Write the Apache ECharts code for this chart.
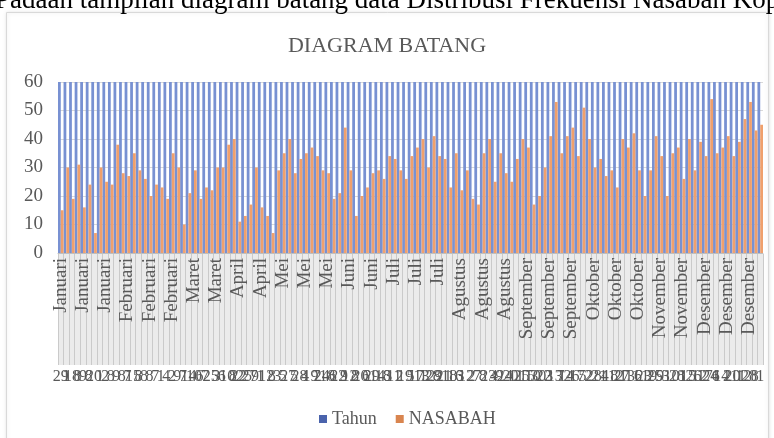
<!DOCTYPE html>
<html>
<head>
<meta charset="utf-8">
<script src="https://cdn.jsdelivr.net/npm/echarts@6/dist/echarts.min.js"></script>
<style>
  html, body { margin: 0; padding: 0; background: #fff; }
  #chart { width: 774px; height: 438px; }
</style>
</head>
<body>
<div id="chart"></div>
<script>
/* Diagram batang: Tahun vs NASABAH per transaksi, dikelompokkan per bulan */
const bulan = ['Januari', 'Februari', 'Maret', 'April', 'Mei', 'Juni', 'Juli',
  'Agustus', 'September', 'Oktober', 'November', 'Desember'];
const jumlahPerBulan = [12, 12, 8, 8, 12, 8, 12, 12, 12, 12, 8, 11];

const tanggal = [
  29, 1, 18, 8, 9, 8, 20, 1, 2, 8, 9, 8, 7, 15, 8, 8,
  8, 7, 1, 4, 2, 9, 7, 14, 10, 6, 7, 25, 3, 6, 10, 8,
  22, 25, 27, 9, 1, 12, 8, 3, 5, 27, 5, 28, 4, 19, 7, 24,
  18, 6, 22, 9, 12, 8, 20, 6, 29, 14, 18, 3, 11, 2, 19, 5,
  17, 13, 12, 28, 9, 21, 18, 16, 3, 12, 2, 7, 8, 23, 4, 9,
  24, 20, 11, 25, 15, 10, 30, 22, 3, 13, 7, 14, 26, 17, 5, 2,
  28, 21, 4, 18, 12, 27, 13, 11, 6, 23, 19, 25, 9, 3, 10, 28,
  1, 15, 26, 12, 17, 24, 6, 14, 2, 20, 11, 12, 28, 8, 1
];

const tahun = 2019;   // tahun data, jauh di atas skala 0-60 sehingga batang terpotong

const nasabah = [
  15, 30, 19, 31, 16, 24, 7, 30, 25, 24, 38, 28, 27, 35, 29, 26, 20, 24,
  23, 19, 35, 30, 10, 21, 29, 19, 23, 22, 30, 30, 38, 40, 11, 13, 17, 30,
  16, 13, 7, 29, 35, 40, 28, 33, 35, 37, 34, 29, 28, 19, 21, 44, 29, 13,
  20, 23, 28, 29, 26, 34, 33, 29, 26, 34, 37, 40, 30, 41, 34, 33, 23, 35,
  22, 29, 19, 17, 35, 40, 25, 35, 28,
  25, 33, 40, 37, 17, 20, 30, 41, 53, 35, 41, 44, 34, 51, 40, 30, 33, 27,
  29, 23, 40, 37, 42, 29, 20, 29, 41, 34, 20, 35, 37, 26, 40, 29, 39, 34,
  54, 35, 37, 41, 34, 39, 47, 53, 43, 45
];

const yTicks = { min: 0, max: 60, interval: 10 };

// month label for every category (one label per group of rows)
const kategoriBulan = [];
bulan.forEach((b, i) => { for (let k = 0; k < jumlahPerBulan[i]; k++) kategoriBulan.push(b); });
const dataTahun = kategoriBulan.map(() => tahun);

const FONT = "'Liberation Serif', 'DejaVu Serif', serif";
const GRAY = '#595959';

const chart = echarts.init(document.getElementById('chart'));
chart.setOption({
  animation: false,
  title: {
    text: 'DIAGRAM BATANG', left: 'center', top: 30,
    textStyle: { fontFamily: FONT, fontSize: 22, fontWeight: 'normal', color: GRAY }
  },
  graphic: [
    {
      type: 'rect', silent: true, z: -10,
      shape: { x: 6.5, y: 12.5, width: 762, height: 440 },
      style: { fill: '#fff', stroke: '#d9d9d9', lineWidth: 1, shadowBlur: 4, shadowColor: 'rgba(0,0,0,0.12)' }
    },
    {
      type: 'text', silent: true, x: -5, y: 14,
      style: {
        text: 'Padaan tampilan diagram batang data Distribusi Frekuensi Nasabah Kop',
        font: "27px 'Liberation Serif'", fill: '#000', textVerticalAlign: 'bottom'
      }
    }
  ],
  legend: {
    data: [
      { name: 'Tahun', itemStyle: { color: '#4a63ac' } },
      { name: 'NASABAH', itemStyle: { color: '#d9854f' } }
    ],
    left: 314, top: 405,
    icon: 'rect', itemWidth: 8, itemHeight: 8, itemGap: 19,
    textStyle: { fontFamily: FONT, fontSize: 18, color: GRAY }
  },
  grid: [
    { left: 58, right: 11, top: 82, bottom: 185 },
    // band under the axis holding the multi-level separator lines
    { left: 58, right: 11, top: 254, height: 111, show: true, backgroundColor: '#ebebeb', borderWidth: 0 }
  ],
  xAxis: [
    {
      type: 'category', data: kategoriBulan, z: 5,
      axisLine: { lineStyle: { color: '#bfbfbf' } },
      axisTick: { show: false },
      axisLabel: { interval: 3, rotate: 90, margin: 5, fontFamily: FONT, fontSize: 19, color: GRAY }
    },
    {
      type: 'category', data: tanggal, position: 'bottom', offset: 114, z: 5,
      axisLine: { show: false }, axisTick: { show: false },
      axisLabel: { interval: 0, margin: 2, fontFamily: FONT, fontSize: 16, color: GRAY }
    },
    {
      type: 'category', data: tanggal, gridIndex: 1, boundaryGap: true, z: 0,
      axisLine: { show: false }, axisTick: { show: false }, axisLabel: { show: false },
      splitLine: { show: true, interval: 0, lineStyle: { color: '#cacaca', width: 1 } }
    }
  ],
  yAxis: [
    {
      type: 'value', min: yTicks.min, max: yTicks.max, interval: yTicks.interval,
      axisLine: { show: false }, axisTick: { show: false },
      splitLine: { lineStyle: { color: '#d9d9d9' } },
      axisLabel: { margin: 15, fontFamily: FONT, fontSize: 19, color: GRAY }
    },
    { type: 'value', gridIndex: 1, show: false, splitLine: { show: false } }
  ],
  series: [
    {
      name: 'Tahun', type: 'bar', data: dataTahun, clip: true,
      barGap: '0%', barCategoryGap: '0%',
      itemStyle: { color: '#7891d2' }
    },
    {
      name: 'NASABAH', type: 'bar', data: nasabah, clip: true,
      itemStyle: { color: '#f0a06c' }
    }
  ]
});
</script>
</body>
</html>
